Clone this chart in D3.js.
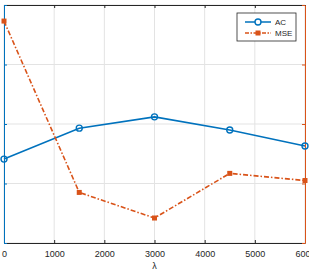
<!DOCTYPE html>
<html>
<head>
<meta charset="utf-8">
<script src="https://cdn.jsdelivr.net/npm/d3@7"></script>
<style>
  body { margin: 0; background: #fff; }
  svg { display: block; font-family: "Liberation Sans", Arial, sans-serif; }
</style>
</head>
<body>
<div id="chart"></div>
<script>
// data (y units are arbitrary, no labels visible)
var lambdas = [0, 1500, 3000, 4500, 6000];
var acValues = [1.41, 1.93, 2.12, 1.90, 1.63];
var mseValues = [3.73, 0.85, 0.42, 1.17, 1.05];
var xTicks = [0, 1000, 2000, 3000, 4000, 5000, 6000];
var yTicks = [0, 1, 2, 3, 4];

var svgWidth = 309, svgHeight = 270;
var margin = {top: 5, left: 4, bottom: 27, right: 4};
var chartwidth = svgWidth - margin.left - margin.right,
    chartheight = svgHeight - margin.top - margin.bottom;

var blue = "#0072BD", orange = "#D95319", axisGray = "#262626";

var svg = d3.select("#chart")
  .append("svg")
    .attr("width", svgWidth)
    .attr("height", svgHeight)
  .append("g")
    .attr("transform", "translate(" + margin.left + "," + margin.top + ")");

var x = d3.scaleLinear().domain([0, 6000]).range([0, chartwidth]);
var yLeft = d3.scaleLinear().domain([0, 4]).range([chartheight, 0]);
var yRight = d3.scaleLinear().domain([0, 4]).range([chartheight, 0]);

// grid
svg.append("g")
  .selectAll("line.vg")
  .data(xTicks)
  .enter().append("line")
    .attr("x1", d => x(d)).attr("x2", d => x(d))
    .attr("y1", 0).attr("y2", chartheight)
    .attr("stroke", "#e3e3e3").attr("stroke-width", 1);
svg.append("g")
  .selectAll("line.hg")
  .data(yTicks)
  .enter().append("line")
    .attr("x1", 0).attr("x2", chartwidth)
    .attr("y1", d => yLeft(d)).attr("y2", d => yLeft(d))
    .attr("stroke", "#e3e3e3").attr("stroke-width", 1);

// bottom axis
var xAxis = svg.append("g")
  .attr("transform", "translate(0," + chartheight + ")")
  .call(d3.axisBottom(x).tickValues(xTicks).tickSizeInner(-3).tickSizeOuter(0).tickPadding(8).tickFormat(d3.format("d")));
xAxis.select(".domain").attr("stroke", axisGray);
xAxis.selectAll(".tick line").attr("stroke", axisGray);
xAxis.selectAll("text").attr("fill", axisGray).style("font-size", "9px");

// top axis
var xTop = svg.append("g")
  .call(d3.axisTop(x).tickValues(xTicks).tickSizeInner(-3).tickSizeOuter(0).tickFormat(""));
xTop.select(".domain").attr("stroke", axisGray);
xTop.selectAll(".tick line").attr("stroke", axisGray);

// left axis (blue), labels off-canvas
var yl = svg.append("g")
  .call(d3.axisLeft(yLeft).tickValues(yTicks).tickSizeInner(-3).tickSizeOuter(0).tickFormat(""));
yl.select(".domain").attr("stroke", blue);
yl.selectAll(".tick line").attr("stroke", blue);

// right axis (orange)
var yr = svg.append("g")
  .attr("transform", "translate(" + chartwidth + ",0)")
  .call(d3.axisRight(yRight).tickValues(yTicks).tickSizeInner(-3).tickSizeOuter(0).tickFormat(""));
yr.select(".domain").attr("stroke", orange);
yr.selectAll(".tick line").attr("stroke", orange);

// x label
svg.append("text")
  .attr("x", x(3000))
  .attr("y", chartheight + 26)
  .attr("text-anchor", "middle")
  .attr("fill", axisGray)
  .style("font-size", "9px")
  .text("λ");

// AC line
var acLine = d3.line()
  .x((d, i) => x(lambdas[i]))
  .y(d => yLeft(d));
svg.append("path")
  .datum(acValues)
  .attr("d", acLine)
  .attr("fill", "none")
  .attr("stroke", blue)
  .attr("stroke-width", 1.6);
svg.selectAll(".acdot")
  .data(acValues)
  .enter().append("circle")
    .attr("class", "acdot")
    .attr("cx", (d, i) => x(lambdas[i]))
    .attr("cy", d => yLeft(d))
    .attr("r", 3)
    .attr("fill", "none")
    .attr("stroke", blue)
    .attr("stroke-width", 1.4);

// MSE line
var mseLine = d3.line()
  .x((d, i) => x(lambdas[i]))
  .y(d => yRight(d));
svg.append("path")
  .datum(mseValues)
  .attr("d", mseLine)
  .attr("fill", "none")
  .attr("stroke", orange)
  .attr("stroke-width", 1.6)
  .attr("stroke-dasharray", "5,2,1.5,2");
svg.selectAll(".msedot")
  .data(mseValues)
  .enter().append("rect")
    .attr("class", "msedot")
    .attr("x", (d, i) => x(lambdas[i]) - 2.5)
    .attr("y", d => yRight(d) - 2.5)
    .attr("width", 5)
    .attr("height", 5)
    .attr("fill", orange);

// legend
var lg = svg.append("g").attr("transform", "translate(233,8)");
lg.append("rect")
  .attr("width", 59).attr("height", 28)
  .attr("fill", "#fff").attr("stroke", axisGray).attr("stroke-width", 0.8);
var items = [
  {name: "AC", color: blue, dash: null, marker: "circle"},
  {name: "MSE", color: orange, dash: "4,1.5,1.5,1.5", marker: "square"}
];
items.forEach(function(it, i) {
  var cy = 9 + i * 11;
  lg.append("line")
    .attr("x1", 8).attr("x2", 34)
    .attr("y1", cy).attr("y2", cy)
    .attr("stroke", it.color).attr("stroke-width", 1.5)
    .attr("stroke-dasharray", it.dash);
  if (it.marker == "circle") {
    lg.append("circle").attr("cx", 21).attr("cy", cy).attr("r", 3)
      .attr("fill", "#fff").attr("stroke", it.color).attr("stroke-width", 1.4);
  } else {
    lg.append("rect").attr("x", 18.5).attr("y", cy - 2.5).attr("width", 5).attr("height", 5)
      .attr("fill", it.color);
  }
  lg.append("text")
    .attr("x", 38).attr("y", cy + 3)
    .attr("fill", axisGray)
    .style("font-size", "8px")
    .text(it.name);
});
</script>
</body>
</html>
